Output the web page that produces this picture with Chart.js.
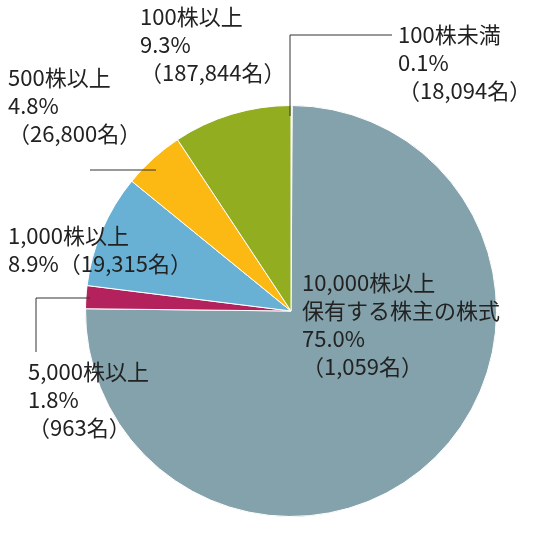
<!DOCTYPE html>
<html><head><meta charset="utf-8">
<script src="https://cdn.jsdelivr.net/npm/chart.js@4"></script>
<style>html,body{margin:0;padding:0;background:#fff}#w{width:557px;height:536px}</style>
</head><body><div id="w"><canvas id="c"></canvas></div>
<script>
const categories = ["100株未満","10,000株以上保有する株主の株式","5,000株以上","1,000株以上","500株以上","100株以上"];
const values = [0.1, 75.0, 1.8, 8.9, 4.8, 9.3];
const holders = ["18,094名","1,059名","963名","19,315名","26,800名","187,844名"];
const colors = ["#f3a96a","#84a2ab","#b3225c","#68b1d5","#fdb913","#93ad21"];
const labels = [
  {x:398,y:35,lines:["100株未満","0.1%","（18,094名）"]},
  {x:302,y:283,lines:["10,000株以上","保有する株主の株式","75.0%","（1,059名）"]},
  {x:28,y:372,lines:["5,000株以上","1.8%","（963名）"]},
  {x:8,y:236,lines:["1,000株以上","8.9%（19,315名）"]},
  {x:8,y:78,lines:["500株以上","4.8%","（26,800名）"]},
  {x:140,y:17,lines:["100株以上","9.3%","（187,844名）"]}
];
const leaders = [
  [[392,35],[290,35],[290,116]],
  [[90,170],[156,170]],
  [[36,352],[36,298],[90,298]]
];
const labelPlugin = {
  id:'lbl',
  afterDraw(chart){
    const ctx = chart.ctx;
    ctx.save();
    ctx.strokeStyle='#333';ctx.lineWidth=1;
    leaders.forEach(p=>{ctx.beginPath();ctx.moveTo(p[0][0],p[0][1]);p.slice(1).forEach(q=>ctx.lineTo(q[0],q[1]));ctx.stroke();});
    ctx.fillStyle='#222';ctx.font='22px "Noto Sans CJK JP"';ctx.textBaseline='middle';
    labels.forEach(l=>l.lines.forEach((t,i)=>ctx.fillText(t,l.x,l.y+i*28)));
    ctx.restore();
  }
};
new Chart(document.getElementById('c'),{
  type:'pie',
  data:{labels:categories,datasets:[{data:values,backgroundColor:colors,borderColor:'#fff',borderWidth:1}]},
  options:{responsive:true,maintainAspectRatio:false,animation:false,
    layout:{padding:{top:105,bottom:19,left:85,right:60}},
    plugins:{legend:{display:false},tooltip:{enabled:false}}},
  plugins:[labelPlugin]
});
</script></body></html>
